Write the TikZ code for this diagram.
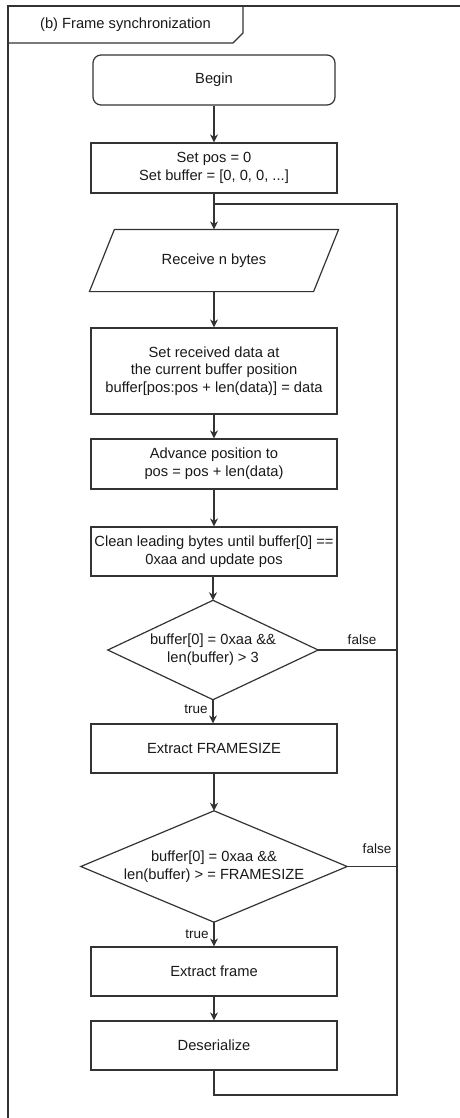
\documentclass[tikz,border=0pt]{standalone}
\usepackage{fontspec}
\setmainfont{Liberation Sans}
\usetikzlibrary{arrows.meta,calc}

\tikzset{
  line/.style={draw=black!80, line width=1.2pt},
  flow/.style={line, -{Stealth[length=8pt,width=8pt,inset=2.5pt]}},
  stepbox/.style={line, rectangle, minimum width=246pt, minimum height=50pt,
    inner sep=0pt, align=center, font=\fontsize{14.7}{17.7}\selectfont, text=black!90},
  startbox/.style={stepbox, rounded corners=8pt, minimum width=242pt},
  decision/.style={rectangle, inner sep=0pt, align=center,
    font=\fontsize{14.7}{17.7}\selectfont, text=black!90},
  edgelabel/.style={fill=white, inner sep=0.5pt, font=\fontsize{13.5}{16}\selectfont, text=black!90},
}

\begin{document}
\begin{tikzpicture}[x=1pt, y=-1pt]
\useasboundingbox (0,0) rectangle (459,1118);

% outer frame (continues past the page edge on the right and bottom)
\draw[line] (8,1130) -- (8,6) -- (470,6);
% title tab
\draw[line] (8,43) -- (233,43) -- (243,33) -- (243,6);
\node[font=\fontsize{14.7}{17.7}\selectfont, text=black!90] (title) at (125.5,24.5) {(b) Frame synchronization};

% steps
\node[startbox] (begin) at (214,80) {Begin};
\node[stepbox] (init) at (214,168) {Set pos = 0\\Set buffer = [0, 0, 0, ...]};
\node[stepbox, draw=none, minimum width=248pt, minimum height=61pt] (recv) at (214,260.5) {Receive n bytes};
\draw[line] ([xshift=25pt]recv.north west) -- (recv.north east)
  -- ([xshift=-25pt]recv.south east) -- (recv.south west) -- cycle;
\node[stepbox, minimum height=86pt] (store) at (214,371) {Set received data at\\the current buffer position\\buffer[pos:pos + len(data)] = data};
\node[stepbox] (advance) at (214,464) {Advance position to\\pos = pos + len(data)};
\node[stepbox, minimum height=49pt] (clean) at (214,551.5) {Clean leading bytes until buffer[0] ==\\0xaa and update pos};

% decisions: the text node spans the diamond, whose outline joins the side midpoints
\node[decision, minimum width=210pt, minimum height=99pt] (check1) at (213,650) {buffer[0] = 0xaa \&\&\\len(buffer) > 3};
\draw[line] (check1.north) -- (check1.east) -- (check1.south) -- (check1.west) -- cycle;
\node[stepbox, minimum height=49pt] (fsize) at (214,748.5) {Extract FRAMESIZE};
\node[decision, minimum width=266pt, minimum height=111pt] (check2) at (214,866.5) {buffer[0] = 0xaa \&\&\\len(buffer) > = FRAMESIZE};
\draw[line] (check2.north) -- (check2.east) -- (check2.south) -- (check2.west) -- cycle;
\node[stepbox, minimum height=49pt] (frame) at (214,971.5) {Extract frame};
\node[stepbox, minimum height=49pt] (deser) at (214,1045.5) {Deserialize};

% loop points
\coordinate (merge) at (214,204);
\coordinate (loopbot) at (214,1095);
\coordinate (loopright) at (397,1095);
\coordinate (looptop) at (397,204);

% connectors
\draw[flow] (begin) -- (init);
\draw[flow] (init) -- (recv.north);
\draw[flow] (recv.south) -- (store);
\draw[flow] (store) -- (advance);
\draw[flow] (advance) -- (clean);
\draw[flow] (clean.south -| check1.north) -- (check1.north);
\draw[flow] (check1.south) -- (check1.south |- fsize.north);
\draw[flow] (fsize) -- (check2.north);
\draw[flow] (check2.south) -- (frame);
\draw[flow] (frame) -- (deser);
\draw[line] (deser.south) -- (loopbot) -- (loopright) -- (looptop) -- (merge);
\draw[line] (check1.east) -- (check1.east -| looptop);
\draw[line] (check2.east) -- (check2.east -| looptop);

% branch labels
\node[edgelabel] (f1) at (362,640) {false};
\node[edgelabel] (f2) at (377,849) {false};
\node[edgelabel] (t1) at (196,709) {true};
\node[edgelabel] (t2) at (197,934) {true};
\end{tikzpicture}
\end{document}
